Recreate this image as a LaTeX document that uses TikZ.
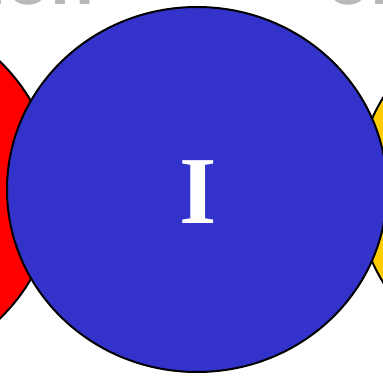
\documentclass[tikz,border=0pt]{standalone}
\usepackage{fontspec}
\setmainfont{Liberation Serif}
\newfontfamily\headfont{Liberation Sans}
\usetikzlibrary{shapes.geometric}
\definecolor{blueset}{RGB}{51,51,204}
\definecolor{redset}{RGB}{255,0,0}
\definecolor{yellowset}{RGB}{255,204,0}
\definecolor{headgray}{RGB}{185,185,185}
\tikzset{
  setshape/.style={ellipse, draw=black, line width=2pt, minimum width=380pt, minimum height=365pt, inner sep=0pt},
  headtext/.style={inner sep=0pt, text=headgray, font=\headfont\bfseries\fontsize{72}{72}\selectfont},
  setlabel/.style={inner sep=0pt, text=white, font=\bfseries\fontsize{96}{96}\selectfont}
}
\begin{document}
\begin{tikzpicture}[x=1pt,y=-1pt]
\useasboundingbox (0,0) rectangle (383,375);
\clip (0,0) rectangle (383,375);
\fill[white] (0,0) rectangle (383,375);
\node[setshape, fill=redset] (red) at (-135,190) {};
\node[setshape, fill=yellowset] (yellow) at (547,190) {};
\node[setshape, fill=blueset] (blue) at (197,189.5) {};
\node[setlabel, anchor=base] (lab) at (198,223) {I};
\node[headtext, anchor=base east] (headL) at (95,4) {ion};
\node[headtext, anchor=base west] (headR) at (326,4) {on};
\end{tikzpicture}
\end{document}
